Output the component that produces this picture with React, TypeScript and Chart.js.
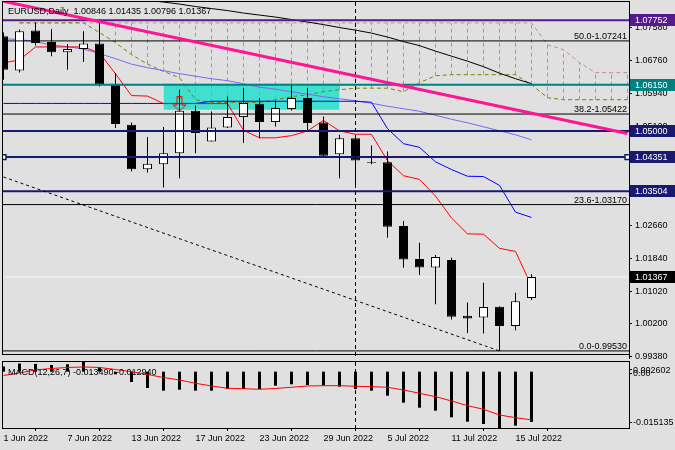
import React, { useEffect, useRef } from "react";
import { Chart, registerables } from "chart.js";

Chart.register(...registerables);

// ---------------- data ----------------
const OPEN = [1.07356, 1.06508, 1.07498, 1.07216, 1.06957, 1.07042, 1.07174, 1.06177, 1.05155, 1.0405, 1.04175, 1.04449, 1.05504, 1.04738, 1.05087, 1.05347, 1.05678, 1.05222, 1.05546, 1.0582, 1.05212, 1.04425, 1.04823, 1.04228, 1.04225, 1.02637, 1.01815, 1.01608, 1.0179, 1.00402, 1.00362, 1.00626, 1.00153, 1.00846];
const HIGH = [1.07448, 1.07523, 1.0769, 1.0754, 1.07166, 1.0748, 1.07772, 1.06443, 1.05212, 1.04848, 1.05097, 1.06027, 1.05628, 1.05486, 1.0586, 1.0607, 1.0582, 1.05753, 1.06177, 1.0607, 1.05362, 1.04905, 1.04905, 1.04639, 1.04489, 1.02762, 1.02221, 1.01915, 1.01847, 1.00735, 1.01224, 1.0064, 1.00975, 1.01435];
const LOW = [1.06276, 1.06458, 1.07124, 1.06857, 1.06526, 1.06718, 1.0611, 1.05073, 1.0399, 1.03966, 1.03592, 1.03826, 1.04449, 1.04738, 1.05073, 1.04699, 1.04823, 1.05113, 1.05511, 1.05013, 1.0435, 1.03826, 1.0366, 1.04175, 1.02346, 1.01598, 1.01416, 1.00693, 1.00312, 0.99978, 0.99963, 0.9953, 1.00045, 1.00796];
const CLOSE = [1.06526, 1.0748, 1.07191, 1.06957, 1.07042, 1.07174, 1.06152, 1.05172, 1.0405, 1.04183, 1.04449, 1.05504, 1.04948, 1.05087, 1.05347, 1.05696, 1.05222, 1.05571, 1.0582, 1.05197, 1.04382, 1.04823, 1.04265, 1.04212, 1.0262, 1.01807, 1.01608, 1.01865, 1.00377, 1.00337, 1.0062, 1.00153, 1.00768, 1.01367];

const TENKAN = [1.06693, 1.0677, 1.07091, 1.07091, 1.07091, 1.07091, 1.06941, 1.06423, 1.05881, 1.05869, 1.05682, 1.05682, 1.05682, 1.05682, 1.05682, 1.05018, 1.04831, 1.04831, 1.04885, 1.05002, 1.05264, 1.05002, 1.04919, 1.04919, 1.04262, 1.03888, 1.03797, 1.03382, 1.02837, 1.02442, 1.02434, 1.02081, 1.02006, 1.01142];
const KIJUN = [1.05686, 1.05686, 1.05686, 1.05686, 1.05686, 1.05686, 1.05686, 1.05686, 1.05686, 1.05686, 1.05686, 1.05686, 1.05686, 1.0574, 1.0574, 1.0574, 1.0574, 1.0574, 1.0574, 1.0574, 1.0574, 1.0574, 1.0574, 1.05716, 1.05059, 1.04685, 1.04594, 1.04233, 1.04042, 1.03875, 1.03868, 1.03647, 1.02983, 1.0285];
const SLATE_MA = [1.07298, 1.07273, 1.07224, 1.07136, 1.07099, 1.07037, 1.06924, 1.068, 1.06663, 1.06576, 1.06501, 1.06426, 1.06364, 1.06301, 1.06252, 1.06177, 1.0609, 1.0604, 1.05977, 1.05915, 1.05853, 1.05803, 1.05753, 1.05691, 1.05616, 1.05554, 1.05491, 1.05392, 1.05292, 1.05205, 1.05105, 1.05005, 1.04906, 1.04781];
const BLACK_MA = [null, null, null, null, null, null, null, null, null, 1.08247, 1.08208, 1.08158, 1.08096, 1.08046, 1.07996, 1.07934, 1.07884, 1.07834, 1.07772, 1.0771, 1.07647, 1.07573, 1.0751, 1.07435, 1.07336, 1.07224, 1.07124, 1.06987, 1.06862, 1.06737, 1.066, 1.06438, 1.06301, 1.06177];
const SPAN_A = [null, 1.0769, 1.0769, 1.0769, 1.0769, 1.0769, 1.07448, 1.07199, 1.069, 1.06663, 1.06483, 1.06326, 1.05778, 1.05711, 1.05711, 1.05711, 1.05711, 1.05778, 1.05853, 1.05903, 1.05977, 1.06027, 1.06065, 1.06065, 1.06065, 1.05977, 1.06202, 1.06376, 1.06401, 1.06401, 1.06401, 1.06401, 1.06401, 1.06152, 1.05828, 1.05778, 1.05778, 1.05778, 1.05778, 1.05778];
const SPAN_B = [null, 1.0769, 1.0769, 1.0769, 1.0769, 1.0769, 1.0769, 1.0769, 1.0769, 1.0769, 1.0769, 1.0769, 1.0769, 1.0769, 1.0769, 1.0769, 1.0769, 1.0769, 1.0769, 1.0769, 1.0769, 1.0769, 1.0769, 1.0769, 1.0769, 1.0769, 1.0769, 1.0769, 1.0769, 1.0769, 1.0769, 1.0769, 1.0769, 1.0769, 1.07149, 1.07024, 1.067, 1.06451, 1.06451, 1.06451];

const MACD_HIST = [0.0014, 0.0022, 0.0021, 0.0018, 0.0020, 0.0026, 0.0012, -0.0007, -0.00277, -0.00438, -0.0051, -0.00484, -0.0051, -0.0051, -0.00465, -0.00465, -0.00465, -0.00376, -0.00339, -0.00357, -0.00376, -0.00403, -0.00465, -0.0051, -0.00645, -0.00833, -0.00967, -0.01048, -0.01225, -0.01344, -0.01406, -0.015135, -0.01451, -0.01349];
const MACD_SIGNAL = [-0.00102, -0.00035, 0.00046, 0.00086, 0.00113, 0.00126, 0.00113, 0.00059, 0.0, -0.00075, -0.00156, -0.00223, -0.00312, -0.00384, -0.00446, -0.00457, -0.00473, -0.00451, -0.00419, -0.00384, -0.00376, -0.00376, -0.00392, -0.00403, -0.00419, -0.00492, -0.0058, -0.00672, -0.00787, -0.00914, -0.0101, -0.01164, -0.01236, -0.01294];
const MACD_MAX = 0.002602;
const MACD_MIN = -0.015135;

const PRICE_TICKS = [1.0758, 1.0676, 1.0594, 1.0512, 1.043, 1.0348, 1.0266, 1.0184, 1.0102, 1.002, 0.9938];
const DATE_BARS = [0, 4, 8, 12, 16, 20, 24, 28, 32];
const DATE_LABELS = ["1 Jun 2022", "7 Jun 2022", "13 Jun 2022", "17 Jun 2022", "23 Jun 2022", "29 Jun 2022", "5 Jul 2022", "11 Jul 2022", "15 Jul 2022"];

const LEVEL_PRICES = [1.07752, 1.0615, 1.05, 1.04351, 1.03504];
const FIB_PRICES = [1.07241, 1.05422, 1.0317, 0.9953];
const FIB_NAMES = ["50.0", "38.2", "23.6", "0.0"];
const ZONE_BARS = [10, 21];
const ZONE_PRICES = [1.06177, 1.05529];
const PINK_BARS = [0, 39];
const PINK_PRICES = [1.08227, 1.04938];
const DASH_BARS = [0, 31];
const DASH_PRICES = [1.03856, 0.9953];
const VLINE_BAR = 22;
const ARROW_BAR = 11;
const ARROW_PRICE = 1.0566;

// ---------------- styles / axes ----------------
const FAMILY = "'Liberation Sans', Arial, Helvetica, sans-serif";
const FONT = `9px ${FAMILY}`;
const BG = "#e0e0e0";
const LEVEL_COLORS = ["#551A8B", "#008080", "#191970", "#191970", "#191970"];
const X_MIN = -0.09375;
const X_MAX = 39.09375;
const Y_MIN = 0.99354;
const Y_MAX = 1.08209;

const series = (vals: any[]) => vals.map((v, i) => ({ x: i, y: v }));
const pairs = (xs: number[], ys: number[]) => xs.map((x, k) => ({ x, y: ys[k] }));
const hline = (p: number) => [{ x: X_MIN, y: p }, { x: X_MAX, y: p }];

const zeroPad = (s: any) => {
  s.paddingLeft = 0;
  s.paddingRight = 0;
  s.paddingTop = 0;
  s.paddingBottom = 0;
};

const mainDecor = {
  id: "mainDecor",
  afterDraw(chart: any) {
    const { ctx, chartArea: a } = chart;
    const ys = chart.scales.y;
    ctx.save();
    ctx.strokeStyle = "#000";
    ctx.lineWidth = 1;
    ctx.strokeRect(a.left + 0.5, a.top - 0.5, a.right - a.left, 353);

    ctx.font = FONT;
    ctx.fillStyle = "#000";
    ctx.textAlign = "right";
    ctx.textBaseline = "alphabetic";
    FIB_PRICES.forEach((p, k) => {
      ctx.fillText(`${FIB_NAMES[k]}-${p.toFixed(5)}`, a.right - 2, ys.getPixelForValue(p) - 2);
    });

    const n = CLOSE.length - 1;
    ctx.textAlign = "left";
    ctx.fillText(
      `EURUSD,Daily  ${OPEN[n].toFixed(5)} ${HIGH[n].toFixed(5)} ${LOW[n].toFixed(5)} ${CLOSE[n].toFixed(5)}`,
      8,
      14
    );

    const tags = LEVEL_PRICES.map((p, k) => ({ p, c: LEVEL_COLORS[k] }));
    tags.push({ p: CLOSE[n], c: "#000000" });
    tags.forEach((t) => {
      const y = ys.getPixelForValue(t.p);
      ctx.fillStyle = t.c;
      ctx.fillRect(a.right + 1, Math.round(y) - 6, 46, 12);
      ctx.fillStyle = "#ffffff";
      ctx.textBaseline = "middle";
      ctx.fillText(t.p.toFixed(5), a.right + 6, y + 0.5);
    });
    ctx.restore();
  },
};

const macdDecor = {
  id: "macdDecor",
  afterDraw(chart: any) {
    const { ctx, chartArea: a } = chart;
    const ys = chart.scales.y;
    const n = MACD_HIST.length - 1;
    ctx.save();
    ctx.strokeStyle = "#000";
    ctx.lineWidth = 1;
    ctx.strokeRect(a.left + 0.5, a.top - 0.5, a.right - a.left, a.bottom - a.top + 1);

    ctx.font = FONT;
    ctx.fillStyle = "#000";
    ctx.textAlign = "left";
    ctx.textBaseline = "alphabetic";
    ctx.fillText(`MACD(12,26,7) ${MACD_HIST[n].toFixed(6)} ${MACD_SIGNAL[n].toFixed(6)}`, 8, a.top + 13);

    const yTop = ys.getPixelForValue(MACD_MAX);
    const yZero = ys.getPixelForValue(0);
    const yBot = ys.getPixelForValue(MACD_MIN);
    const x0 = a.right + 4;
    const labels = [
      { t: MACD_MAX.toFixed(6), y: yTop + 7.3 },
      { t: "0.00", y: yZero + 1.3 },
      { t: MACD_MIN.toFixed(6), y: yBot - 6.2 },
    ];
    ctx.beginPath();
    labels.forEach((l) => {
      ctx.moveTo(a.right, Math.round(l.y) + 0.5);
      ctx.lineTo(a.right + 3, Math.round(l.y) + 0.5);
    });
    ctx.stroke();
    labels.forEach((l) => ctx.fillText(l.t, x0, l.y + 3.2));
    ctx.restore();
  },
};

export default function App() {
  const mainRef = useRef<HTMLCanvasElement | null>(null);
  const macdRef = useRef<HTMLCanvasElement | null>(null);

  useEffect(() => {
    document.body.style.margin = "0";
    Chart.defaults.font.family = FAMILY;
    Chart.defaults.font.size = 9;

    // arrow sprite used as point style
    const arrow = document.createElement("canvas");
    arrow.width = 16;
    arrow.height = 16;
    const g = arrow.getContext("2d")!;
    g.strokeStyle = "#ff0000";
    g.lineWidth = 1;
    g.beginPath();
    g.moveTo(5.5, 0.5);
    g.lineTo(10.5, 0.5);
    g.lineTo(10.5, 8.5);
    g.lineTo(14.5, 8.5);
    g.lineTo(8, 14.5);
    g.lineTo(1.5, 8.5);
    g.lineTo(5.5, 8.5);
    g.closePath();
    g.stroke();

    const bodyColors = CLOSE.map((c, i) => (c >= OPEN[i] ? "#ffffff" : "#000000"));

    const hatch: any[] = [];
    SPAN_A.forEach((a, i) => {
      const b = SPAN_B[i];
      if (a != null && b != null && Math.abs(a - b) > 0.0003) {
        hatch.push({ x: i, y: a }, { x: i, y: b }, { x: i, y: null });
      }
    });

    const lineBase = { type: "line", pointRadius: 0, borderWidth: 1, fill: false, spanGaps: false };

    const levelSets = LEVEL_PRICES.map((p, k) => {
      if (k === 3) {
        return {
          ...lineBase,
          data: [{ x: X_MIN, y: p }, { x: 0, y: p }, { x: 39, y: p }, { x: X_MAX, y: p }],
          borderColor: LEVEL_COLORS[k],
          borderWidth: 2,
          pointRadius: [0, 3.5, 3.5, 0],
          pointStyle: "rect",
          pointBorderColor: LEVEL_COLORS[k],
          pointBackgroundColor: "#ffffff",
          pointBorderWidth: 1.5,
          order: 40,
        };
      }
      return { ...lineBase, data: hline(p), borderColor: LEVEL_COLORS[k], borderWidth: 2, order: 40 };
    });

    const fibSets = FIB_PRICES.map((p) => ({ ...lineBase, data: hline(p), borderColor: "#000000", borderWidth: 1, order: 41 }));

    const main = new Chart(mainRef.current!, {
      type: "line",
      data: {
        datasets: [
          {
            ...lineBase,
            data: pairs(ZONE_BARS, [ZONE_PRICES[0], ZONE_PRICES[0]]),
            borderColor: "rgba(0,0,0,0)",
            borderWidth: 0,
            fill: "+1",
            backgroundColor: "#40E0D0",
            order: 100,
          },
          {
            ...lineBase,
            data: pairs(ZONE_BARS, [ZONE_PRICES[1], ZONE_PRICES[1]]),
            borderColor: "rgba(0,0,0,0)",
            borderWidth: 0,
            order: 101,
          },
          { ...lineBase, data: hatch, borderColor: "#BC8F8F", borderDash: [4, 3], order: 95 },
          { ...lineBase, data: series(SPAN_B), borderColor: "#BC8F8F", borderDash: [4, 3], order: 94 },
          { ...lineBase, data: series(SPAN_A), borderColor: "#808000", borderDash: [4, 3], order: 93 },
          { ...lineBase, data: series(BLACK_MA), borderColor: "#000000", order: 85 },
          { ...lineBase, data: series(SLATE_MA), borderColor: "#7B68EE", order: 84 },
          { ...lineBase, data: series(KIJUN), borderColor: "#0000FF", order: 83 },
          { ...lineBase, data: series(TENKAN), borderColor: "#FF0000", order: 82 },
          { ...lineBase, data: hline(CLOSE[CLOSE.length - 1]), borderColor: "#f4f4f4", order: 70 },
          {
            type: "bar",
            data: HIGH.map((h, i) => ({ x: i, y: [LOW[i], h] })),
            backgroundColor: "#000000",
            borderWidth: 0,
            barThickness: 1,
            grouped: false,
            inflateAmount: 0,
            order: 61,
          },
          {
            type: "bar",
            data: OPEN.map((o, i) => ({ x: i, y: [o, CLOSE[i]] })),
            backgroundColor: bodyColors,
            borderColor: "#000000",
            borderWidth: 1,
            borderSkipped: false,
            barThickness: 9,
            grouped: false,
            inflateAmount: 0,
            order: 60,
          },
          ...levelSets,
          ...fibSets,
          { ...lineBase, data: pairs(PINK_BARS, PINK_PRICES), borderColor: "#FF1493", borderWidth: 3, order: 30 },
          { ...lineBase, data: pairs(DASH_BARS, DASH_PRICES), borderColor: "#000000", borderDash: [3, 3], order: 31 },
          {
            ...lineBase,
            data: [{ x: VLINE_BAR, y: Y_MAX }, { x: VLINE_BAR, y: Y_MIN }],
            borderColor: "#000000",
            borderDash: [4, 3],
            order: 32,
          },
          {
            type: "line",
            showLine: false,
            data: [{ x: ARROW_BAR, y: ARROW_PRICE }],
            pointStyle: arrow,
            pointRadius: 8,
            order: 5,
          },
        ] as any,
      },
      options: {
        animation: false,
        responsive: false,
        devicePixelRatio: 1,
        events: [],
        layout: { autoPadding: false, padding: { left: 2, top: 2, right: 0, bottom: 6 } },
        plugins: { legend: { display: false }, tooltip: { enabled: false } },
        scales: {
          x: { type: "linear", min: X_MIN, max: X_MAX, display: false, offset: false, afterFit: zeroPad },
          y: {
            type: "linear",
            position: "right",
            min: Y_MIN,
            max: Y_MAX,
            afterFit: (s: any) => {
              s.width = 46;
              zeroPad(s);
            },
            afterBuildTicks: (s: any) => {
              s.ticks = PRICE_TICKS.map((v) => ({ value: v }));
            },
            ticks: {
              callback: (v: any) => Number(v).toFixed(5),
              font: { family: FAMILY, size: 9 },
              color: "#000000",
              padding: 3,
              autoSkip: false,
            },
            grid: { drawOnChartArea: false, drawTicks: true, tickLength: 3, color: "#000000" },
            border: { display: true, color: "#000000" },
          },
        },
      } as any,
      plugins: [mainDecor],
    } as any);

    const macd = new Chart(macdRef.current!, {
      type: "line",
      data: {
        datasets: [
          {
            type: "bar",
            data: series(MACD_HIST),
            backgroundColor: "#000000",
            borderWidth: 0,
            barThickness: 3,
            grouped: false,
            inflateAmount: 0,
            order: 10,
          },
          {
            ...lineBase,
            data: [{ x: VLINE_BAR, y: MACD_MAX }, { x: VLINE_BAR, y: MACD_MIN }],
            borderColor: "#000000",
            borderDash: [4, 3],
            order: 8,
          },
          { ...lineBase, data: series(MACD_SIGNAL), borderColor: "#FF0000", order: 5 },
        ] as any,
      },
      options: {
        animation: false,
        responsive: false,
        devicePixelRatio: 1,
        events: [],
        layout: { autoPadding: false, padding: { left: 2, top: 2, right: 0, bottom: 0 } },
        plugins: { legend: { display: false }, tooltip: { enabled: false } },
        scales: {
          x: {
            type: "linear",
            position: "bottom",
            min: X_MIN,
            max: X_MAX,
            offset: false,
            afterFit: (s: any) => {
              s.height = 22;
              zeroPad(s);
            },
            afterBuildTicks: (s: any) => {
              s.ticks = DATE_BARS.map((v) => ({ value: v }));
            },
            ticks: {
              callback: (_v: any, idx: number) => DATE_LABELS[idx],
              align: "start",
              font: { family: FAMILY, size: 9 },
              color: "#000000",
              padding: 2,
              maxRotation: 0,
              autoSkip: false,
            },
            grid: { drawOnChartArea: false, drawTicks: true, tickLength: 3, color: "#000000" },
            border: { display: false },
          },
          y: {
            type: "linear",
            position: "right",
            min: MACD_MIN,
            max: MACD_MAX,
            afterFit: (s: any) => {
              s.width = 46;
              zeroPad(s);
            },
            ticks: { display: false },
            grid: { display: false },
            border: { display: false },
          },
        },
      } as any,
      plugins: [macdDecor],
    } as any);

    return () => {
      main.destroy();
      macd.destroy();
    };
  }, []);

  return (
    <div
      style={{
        position: "fixed",
        left: 0,
        top: 0,
        width: 675,
        height: 450,
        background: BG,
        overflow: "hidden",
      }}
    >
      <canvas ref={mainRef} width={675} height={364} style={{ position: "absolute", left: 0, top: 0 }} />
      <canvas ref={macdRef} width={675} height={90} style={{ position: "absolute", left: 0, top: 360 }} />
    </div>
  );
}
